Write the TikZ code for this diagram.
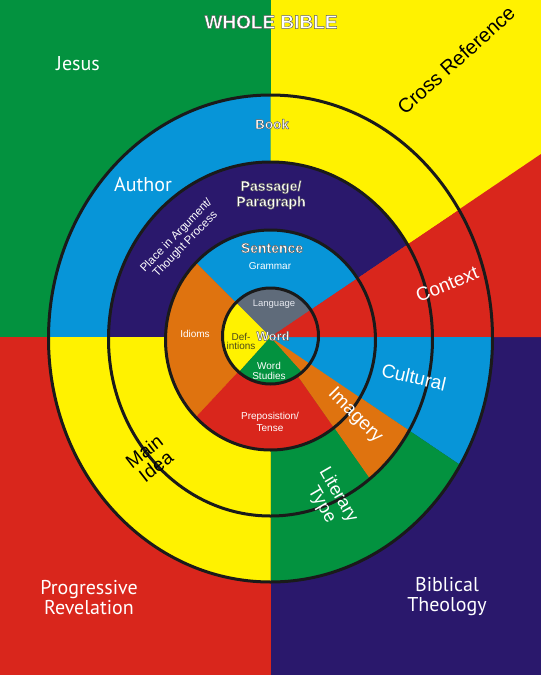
\documentclass[tikz,border=0pt]{standalone}
\usepackage{fontspec}
\setmainfont{Liberation Sans}
\newfontfamily\ptsans{PT Sans}
\usetikzlibrary{calc}
\definecolor{cgreen}{HTML}{03923F}
\definecolor{cyellow}{HTML}{FFF200}
\definecolor{cred}{HTML}{D9261C}
\definecolor{cpurple}{HTML}{2A186C}
\definecolor{cblue}{HTML}{0795D8}
\definecolor{corange}{HTML}{DF730F}
\definecolor{cgray}{HTML}{5F6B7A}
\definecolor{colive}{HTML}{4D4A1A}
\definecolor{ringc}{HTML}{1A1A1A}
\definecolor{langc}{HTML}{E6E8EF}
\newcommand\olt[1]{\special{pdf:literal direct 0.35 G 0.45 w 1 j 2 Tr}#1\special{pdf:literal direct 0 Tr}}
\newcommand\sectfill[3]{\fill[#1] (C) -- ({270.5+900*cos(#2)},{337-900*sin(#2)}) -- ({270.5+900*cos((#2+#3)/2)},{337-900*sin((#2+#3)/2)}) -- ({270.5+900*cos(#3)},{337-900*sin(#3)}) -- cycle;}
\begin{document}
\begin{tikzpicture}[x=1pt,y=-1pt,
  lab/.style={text=white, inner sep=0pt, align=center},
  dlab/.style={text=black, inner sep=0pt, align=center},
  ring/.style={draw=ringc, line width=3pt}]
\useasboundingbox (0,0) rectangle (541,675);
\coordinate (C) at (270.5,337);
% background quadrants
\fill[cgreen] (0,0) rectangle (270.5,337);
\fill[cyellow] (270.5,0) rectangle (541,337);
\fill[cred] (0,337) rectangle (270.5,675);
\fill[cpurple] (270.5,337) rectangle (541,675);
\fill[cred] (C) -- (541,337) -- (541,154) -- cycle;
% outer ring (Book)
\begin{scope}
\clip (270.5,338.5) ellipse [x radius=222pt, y radius=243.5pt];
\sectfill{cblue}{90}{180}
\sectfill{cyellow}{34}{90}
\sectfill{cred}{0}{34}
\sectfill{cblue}{-34}{0}
\sectfill{cgreen}{-90}{-34}
\sectfill{cyellow}{180}{270}
\end{scope}
% passage ring
\begin{scope}
\clip (270.5,339) ellipse [x radius=162pt, y radius=177pt];
\sectfill{cpurple}{34}{180}
\sectfill{cred}{0}{34}
\sectfill{cblue}{-34}{0}
\sectfill{corange}{-55}{-34}
\sectfill{cgreen}{-90}{-55}
\sectfill{cyellow}{180}{270}
\end{scope}
% sentence ring
\begin{scope}
\clip (270.5,340) ellipse [x radius=105pt, y radius=110pt];
\sectfill{cblue}{34}{135}
\sectfill{corange}{135}{227}
\sectfill{cred}{227}{305}
\sectfill{corange}{305}{326}
\sectfill{cblue}{326}{360}
\sectfill{cred}{0}{34}
\end{scope}
% word circle
\begin{scope}
\clip (270.5,336) circle [radius=48pt];
\sectfill{cgray}{34}{135}
\sectfill{cyellow}{135}{228}
\sectfill{cgreen}{228}{312}
\sectfill{corange}{312}{326}
\sectfill{cblue}{326}{360}
\sectfill{cred}{0}{34}
\end{scope}
% outlines
\draw[ring] (270.5,338.5) ellipse [x radius=222pt, y radius=243.5pt];
\draw[ring] (270.5,339) ellipse [x radius=162pt, y radius=177pt];
\draw[ring] (270.5,340) ellipse [x radius=105pt, y radius=110pt];
\draw[ring] (270.5,336) circle [radius=48pt];
% labels
\node[lab, font=\bfseries\fontsize{19}{20}\selectfont] (whole) at (271,22) {\olt{WHOLE BIBLE}};
\node[lab, font=\ptsans\fontsize{20}{22}\selectfont] (jesus) at (78,64) {Jesus};
\node[dlab, font=\fontsize{20}{22}\selectfont, rotate=42] (crossref) at (456,60) {Cross Reference};
\node[lab, font=\ptsans\fontsize{20}{22}\selectfont] (author) at (143,185) {Author};
\node[lab, font=\bfseries\fontsize{13.5}{15}\selectfont] (book) at (272,124) {\olt{Book}};
\node[lab, font=\bfseries\fontsize{14}{15.5}\selectfont] (passage) at (271,195) {\olt{Passage/}\\\olt{Paragraph}};
\node[lab, font=\fontsize{11.5}{12.5}\selectfont, rotate=46] (place) at (181,240) {Place in Argument/\\Thought Process};
\node[lab, font=\bfseries\fontsize{14}{15}\selectfont] (sentence) at (272,248) {\olt{Sentence}};
\node[lab, font=\fontsize{10}{11}\selectfont] (grammar) at (270,266) {Grammar};
\node[lab, text=langc, font=\fontsize{9.5}{11}\selectfont] (language) at (274,304) {Language};
\node[dlab, text=colive, font=\fontsize{10}{9}\selectfont] (defs) at (241,341) {Def-\\intions};
\node[lab, font=\bfseries\fontsize{13}{15}\selectfont] (word) at (273,336) {\olt{Word}};
\node[lab, font=\fontsize{10}{10}\selectfont] (studies) at (269,371) {Word\\Studies};
\node[lab, font=\fontsize{10}{11}\selectfont] (idioms) at (195,334) {Idioms};
\node[lab, font=\fontsize{10}{12}\selectfont] (prep) at (270,422) {Preposistion/\\Tense};
\node[lab, font=\fontsize{19}{21}\selectfont, rotate=22] (context) at (447,284) {Context};
\node[lab, font=\fontsize{19}{21}\selectfont, rotate=-13] (cultural) at (414,377) {Cultural};
\node[lab, font=\fontsize{19}{21}\selectfont, rotate=-45] (imagery) at (355,416) {Imagery};
\node[lab, font=\fontsize{18}{19}\selectfont, rotate=-60] (literary) at (330,500) {Literary\\Type};
\node[dlab, font=\fontsize{19}{19}\selectfont, rotate=38] (mainidea) at (150,459) {Main\\Idea};
\node[lab, font=\ptsans\fontsize{20}{20}\selectfont] (progrev) at (89,598) {Progressive\\Revelation};
\node[lab, font=\ptsans\fontsize{20}{20}\selectfont] (bibtheo) at (447,597) {Biblical\\Theology};
\end{tikzpicture}
\end{document}
